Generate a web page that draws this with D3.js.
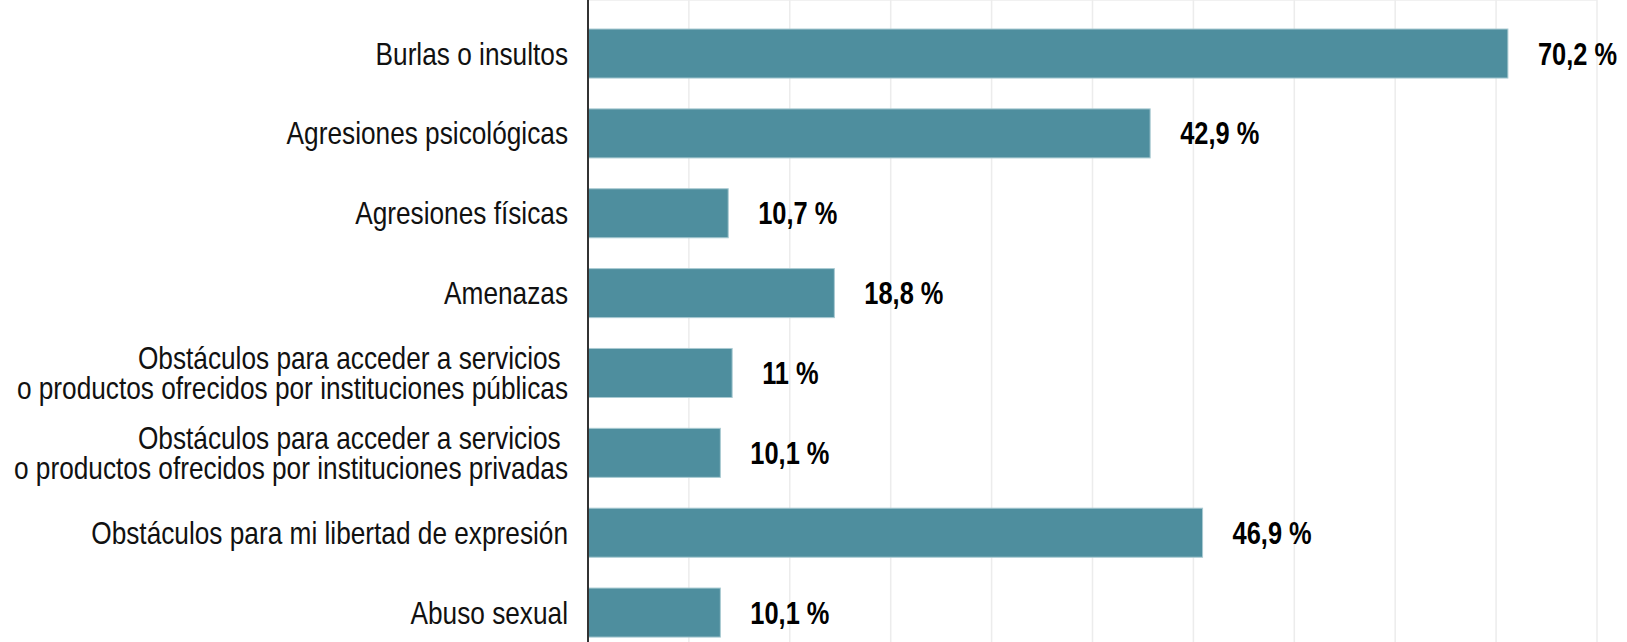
<meta charset="utf-8">
<script src="https://cdn.jsdelivr.net/npm/d3@7"></script>
<style>
  body { margin: 0; background: #fff; }
  svg text { font-family: "Liberation Sans", Arial, sans-serif; }
</style>
<svg width="1627" height="642"></svg>
<script>
    var categories = [
        "Burlas o insultos",
        "Agresiones psicológicas",
        "Agresiones físicas",
        "Amenazas",
        "Obstáculos para acceder a servicios \no productos ofrecidos por instituciones públicas",
        "Obstáculos para acceder a servicios \no productos ofrecidos por instituciones privadas",
        "Obstáculos para mi libertad de expresión",
        "Abuso sexual"
    ];
    var values = [70.2, 42.9, 10.7, 18.8, 11, 10.1, 46.9, 10.1];
    var valueLabels = ["70,2 %", "42,9 %", "10,7 %", "18,8 %", "11 %", "10,1 %", "46,9 %", "10,1 %"];
    var gridTicks = [7.7, 15.4, 23.1, 30.8, 38.5, 46.2, 53.9, 61.6, 69.3, 77];

    var svg = d3.select("svg"),
        left = 588, right = 1597, top = 12,
        narrow = 0.82; // no narrow face installed, squeeze the regular one

    var xScale = d3.scaleLinear().domain([0, 77]).range([left, right]);
    var yScale = d3.scaleBand().domain(categories).range([13.6, 652.5])
        .paddingInner(0.386).paddingOuter(0.193);

    // grid
    var grid = svg.append("g").attr("class", "grid");
    grid.selectAll("line")
        .data(gridTicks)
        .enter().append("line")
        .attr("x1", function(d) { return xScale(d); })
        .attr("x2", function(d) { return xScale(d); })
        .attr("y1", top)
        .attr("y2", 642)
        .style("stroke", "#ececec")
        .style("stroke-width", 1.5);
    grid.append("line")
        .attr("x1", left).attr("x2", xScale(77))
        .attr("y1", top).attr("y2", top)
        .style("stroke", "#ececec")
        .style("stroke-width", 1.5);

    // bars
    svg.append("g").selectAll("rect")
        .data(values)
        .enter().append("rect")
        .attr("x", xScale(0))
        .attr("y", function(d, i) { return yScale(categories[i]); })
        .attr("width", function(d) { return xScale(d) - xScale(0); })
        .attr("height", yScale.bandwidth())
        .style("fill", "#4e8e9e")
        .style("stroke", "#a9cad2")
        .style("stroke-width", 1);

    // axis line
    svg.append("line")
        .attr("x1", left).attr("x2", left)
        .attr("y1", top).attr("y2", 642)
        .style("stroke", "#333")
        .style("stroke-width", 2);

    // category labels
    var lineH = 30;
    svg.append("g").selectAll("text")
        .data(categories)
        .enter().append("text")
        .attr("text-anchor", "end")
        .attr("font-size", 32)
        .attr("fill", "#111")
        .attr("transform", function(d) {
            var cy = yScale(d) + yScale.bandwidth() / 2;
            return "translate(" + (left - 20) + "," + cy + ") scale(" + narrow + ",1)";
        })
        .style("white-space", "pre")
        .each(function(d) {
            var lines = d.split("\n"),
                y0 = -(lines.length - 1) * lineH / 2 + 11;
            var t = d3.select(this);
            lines.forEach(function(l, k) {
                t.append("tspan")
                    .attr("x", 0)
                    .attr("y", y0 + k * lineH)
                    .text(l);
            });
        });

    // value labels
    svg.append("g").selectAll("text")
        .data(values)
        .enter().append("text")
        .attr("transform", function(d, i) {
            var cy = yScale(categories[i]) + yScale.bandwidth() / 2 + 11;
            return "translate(" + (xScale(d) + 30) + "," + cy + ") scale(" + narrow + ",1)";
        })
        .attr("font-size", 31)
        .attr("font-weight", "bold")
        .attr("fill", "#000")
        .text(function(d, i) { return valueLabels[i]; });
</script>
